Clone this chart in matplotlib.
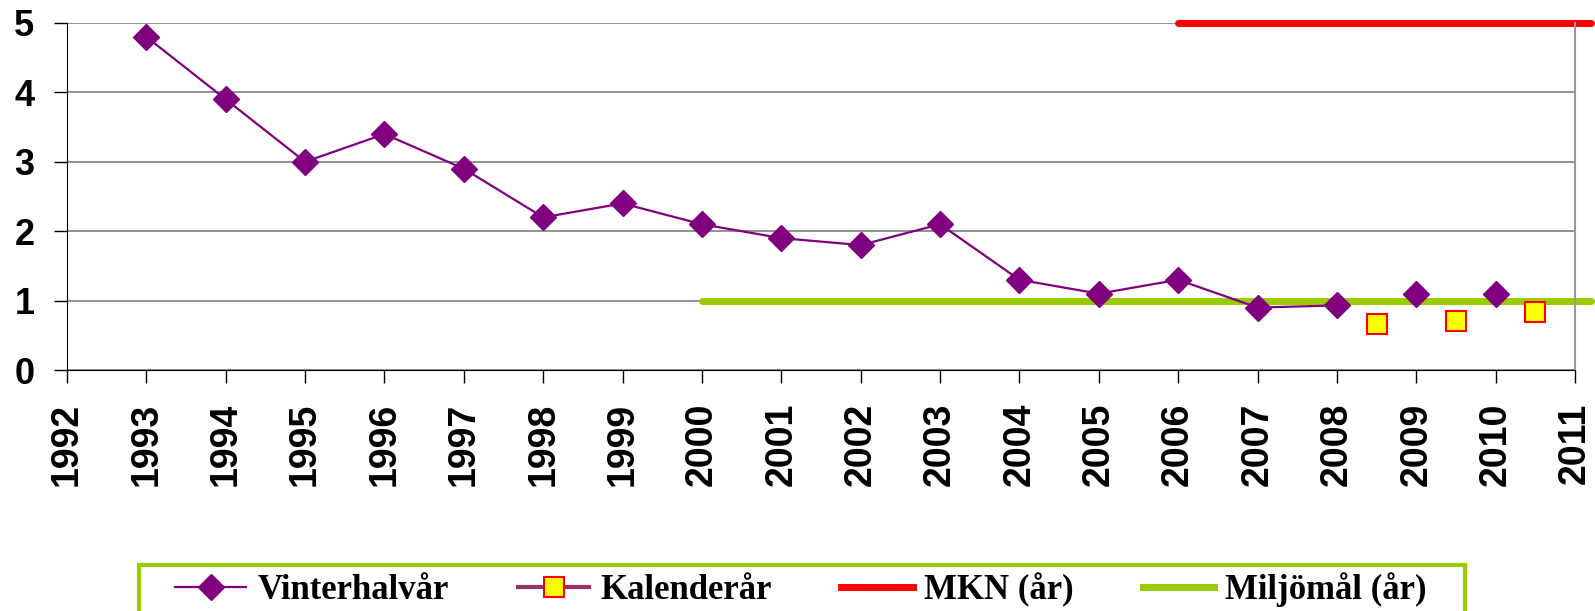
import numpy as np
import matplotlib.pyplot as plt
from matplotlib.lines import Line2D
from matplotlib.patches import Rectangle

# data
years = [1993, 1994, 1995, 1996, 1997, 1998, 1999, 2000, 2001,
         2002, 2003, 2004, 2005, 2006, 2007, 2008, 2009, 2010]
vinter = [4.8, 3.9, 3.0, 3.4, 2.9, 2.2, 2.4, 2.1, 1.9,
          1.8, 2.1, 1.3, 1.1, 1.3, 0.9, 0.93, 1.1, 1.1]
# last connected point of the winter series
vinter_line_end = 2008

kal_years = [2008.5, 2009.5, 2010.5]
kalender = [0.67, 0.70, 0.84]

mkn_years = [2006, 2011.2]
mkn = [5, 5]
miljo_years = [2000, 2011.2]
miljo = [1, 1]

xticks = list(range(1992, 2012))
yticks = [0, 1, 2, 3, 4, 5]

purple = '#800080'
green = '#99CC00'

W, H = 1595, 611
fig = plt.figure(figsize=(W / 100, H / 100), dpi=100)
ax = fig.add_axes([67 / W, 1 - 370 / H, (1575 - 67) / W, (370 - 23) / H])

ax.set_xlim(1992, 2011)
ax.set_ylim(0, 5)
ax.set_yticks(yticks)
ax.set_xticks(xticks)
ax.set_xticklabels([str(y) for y in xticks], rotation=90,
                   fontsize=27, fontweight='bold', family='Liberation Sans')
ax.set_yticklabels([str(y) for y in yticks],
                   fontsize=26, fontweight='bold', family='Liberation Sans')
ax.tick_params(axis='both', direction='out', length=9.4, width=1, color='black')
ax.tick_params(axis='x', pad=14)
ax.tick_params(axis='y', pad=14)

ax.grid(axis='y', color='#808080', linewidth=1.2)
ax.set_axisbelow(True)
ax.spines['left'].set_color('black')
ax.spines['bottom'].set_color('black')
ax.spines['right'].set_color('#999999')
ax.spines['right'].set_linewidth(1.5)
ax.spines['top'].set_visible(False)

# reference lines
ax.plot(miljo_years, miljo, color=green, linewidth=5,
        solid_capstyle='round', clip_on=False, zorder=2)
ax.plot(mkn_years, mkn, color='red', linewidth=5,
        solid_capstyle='round', clip_on=False, zorder=2)

# winter series: line up to 2008, markers for all
yrs = np.array(years)
vals = np.array(vinter)
mask = yrs <= vinter_line_end
ax.plot(yrs[mask], vals[mask], color=purple, linewidth=1.6, zorder=3)
ax.plot(yrs, vals, linestyle='none', marker='D', markersize=13,
        color=purple, markeredgecolor=purple, zorder=4)

# calendar year
ax.plot(kal_years, kalender, linestyle='none', marker='s', markersize=15,
        markerfacecolor='yellow', markeredgecolor='red',
        markeredgewidth=1.5, zorder=4)

# legend border, runs off the bottom of the figure
fig.patches.append(Rectangle((139 / W, -0.05), (1465 - 139) / W, 0.05 + 1 - 565 / H,
                             transform=fig.transFigure, fill=False,
                             edgecolor=green, linewidth=3))

handles = [
    Line2D([], [], color=purple, linewidth=1.6, marker='D', markersize=13),
    Line2D([], [], color='#993366', linewidth=3, marker='s', markersize=15,
           markerfacecolor='yellow', markeredgecolor='red', markeredgewidth=1.5),
    Line2D([], [], color='red', linewidth=5),
    Line2D([], [], color=green, linewidth=5),
]
labels = ['Vinterhalvår', 'Kalenderår', 'MKN (år)', 'Miljömål (år)']
leg = fig.legend(handles, labels, loc='center left', ncol=4,
                 bbox_to_anchor=(175 / W, 1 - 590 / H),
                 prop={'family': 'Liberation Serif', 'weight': 'bold', 'size': 25},
                 frameon=False, handlelength=2.05, handletextpad=0.32,
                 columnspacing=2.0, borderpad=0, borderaxespad=0)

fig.savefig('out.png', dpi=100)
